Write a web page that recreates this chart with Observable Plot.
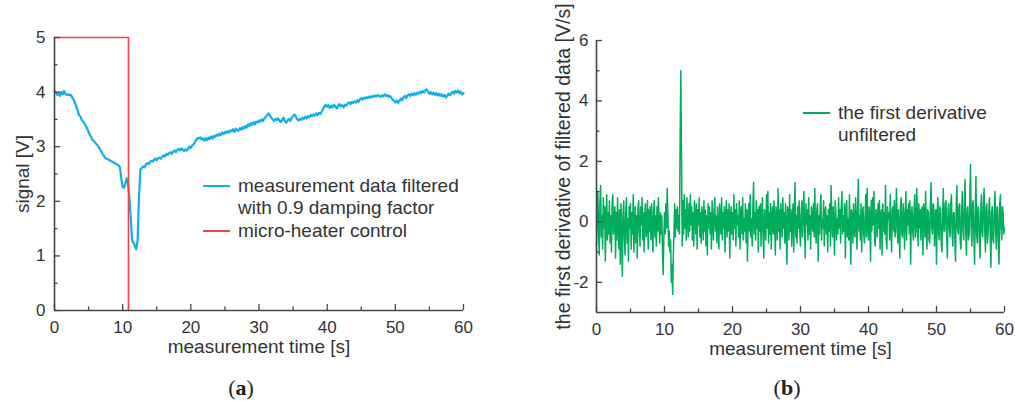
<!DOCTYPE html>
<html><head><meta charset="utf-8">
<script src="https://cdn.jsdelivr.net/npm/d3@7"></script>
<script src="https://cdn.jsdelivr.net/npm/@observablehq/plot@0.6"></script>
<style>
body{margin:0;background:#fff;}
#wrap{position:relative;width:1015px;height:401px;overflow:hidden;font-family:"Liberation Sans",Arial,sans-serif;color:#333;}
.chart{position:absolute;top:0;}
.leg{position:absolute;font-size:19px;line-height:22.5px;color:#333;white-space:nowrap;}
.sw{position:absolute;width:27px;height:0;border-top:2px solid;}
.cap{position:absolute;font-family:"Liberation Serif","DejaVu Serif",serif;font-size:22px;line-height:24px;transform:translateX(-50%);color:#222;}
</style></head><body><div id="wrap"></div>
<script>
// sampling steps (s)
const signalStep = 0.2;
const derivStep = 0.1;
// (a) measurement data filtered with 0.9 damping factor [V], one row = 2 s
const signal = [
 4.02,3.99,3.95,3.97,3.93,4.00,3.96,4.02,3.97,3.95,
 3.96,3.94,3.95,3.90,3.86,3.80,3.74,3.66,3.58,3.55,
 3.49,3.46,3.42,3.38,3.33,3.27,3.21,3.17,3.12,3.10,
 3.07,3.04,3.01,2.97,2.93,2.88,2.84,2.80,2.78,2.77,
 2.76,2.74,2.73,2.72,2.70,2.69,2.67,2.66,2.62,2.42,
 2.26,2.25,2.33,2.42,2.30,2.05,1.65,1.28,1.24,1.18,
 1.12,1.30,2.10,2.58,2.61,2.64,2.62,2.67,2.70,2.68,
 2.72,2.74,2.73,2.76,2.78,2.75,2.79,2.80,2.78,2.82,
 2.84,2.82,2.87,2.85,2.88,2.90,2.87,2.91,2.93,2.90,
 2.94,2.96,2.93,2.97,2.95,2.92,2.95,2.93,2.96,3.00,
 2.98,3.02,3.04,3.08,3.13,3.16,3.15,3.17,3.13,3.15,
 3.11,3.16,3.12,3.17,3.14,3.19,3.15,3.20,3.18,3.22,
 3.20,3.24,3.21,3.26,3.23,3.27,3.25,3.29,3.26,3.30,
 3.28,3.32,3.27,3.33,3.30,3.29,3.34,3.31,3.36,3.33,
 3.38,3.35,3.41,3.38,3.43,3.40,3.45,3.41,3.46,3.44,
 3.48,3.46,3.50,3.47,3.52,3.55,3.58,3.61,3.57,3.53,
 3.50,3.47,3.51,3.49,3.52,3.48,3.45,3.49,3.53,3.47,
 3.44,3.48,3.51,3.47,3.53,3.56,3.59,3.55,3.50,3.48,
 3.51,3.49,3.53,3.51,3.55,3.52,3.56,3.54,3.58,3.56,
 3.59,3.57,3.61,3.58,3.62,3.60,3.64,3.69,3.74,3.77,
 3.73,3.76,3.71,3.75,3.72,3.77,3.74,3.70,3.75,3.78,
 3.74,3.76,3.72,3.77,3.75,3.79,3.81,3.78,3.82,3.80,
 3.83,3.81,3.85,3.82,3.87,3.89,3.86,3.90,3.88,3.91,
 3.89,3.92,3.90,3.93,3.91,3.94,3.92,3.95,3.93,3.91,
 3.94,3.92,3.96,3.93,3.95,3.91,3.93,3.90,3.86,3.84,
 3.81,3.85,3.80,3.84,3.88,3.85,3.90,3.93,3.89,3.94,
 3.96,3.93,3.97,3.94,3.98,3.95,3.99,3.97,4.01,3.98,
 4.02,3.99,4.03,4.05,4.01,3.97,4.00,3.96,3.99,3.95,
 3.98,3.94,3.97,3.93,3.96,3.92,3.95,3.90,3.93,3.97,
 3.94,3.98,4.01,3.97,4.02,3.99,4.03,3.98,4.01,3.96,
 3.98
];
// (a) micro-heater control
const heaterTime = [0, 10.85, 10.85];
const heaterValue = [5, 5, 0];
// (b) the first derivative, unfiltered [V/s], one row = 2 s
const derivative = [
 -0.8,0.4,1.0,-0.3,-1.1,0.6,1.2,-0.5,0.2,-0.9,0.8,-0.2,0.5,-1.3,0.1,0.9,-0.6,0.3,-0.4,0.7,
 -0.7,0.2,-1.0,0.6,0.9,-0.4,-0.1,0.5,-1.2,0.3,-0.6,0.8,-0.2,-0.9,0.4,-1.4,0.6,-0.3,-1.8,0.2,
 0.7,-0.5,-1.1,0.3,0.8,-0.7,0.1,-1.3,0.5,-0.2,0.6,-0.9,0.3,-0.4,0.9,-1.0,-0.2,0.5,-0.7,0.2,
 -1.2,0.4,0.7,-0.3,-0.8,0.5,-0.1,0.8,-0.6,0.3,-1.0,0.2,0.6,-0.5,-0.2,0.7,-0.9,0.4,-0.3,0.5,
 -0.6,0.6,-0.2,-1.0,0.4,0.7,-0.5,0.2,-0.8,0.5,-0.3,0.8,-0.1,-0.7,0.3,-0.4,0.2,-0.9,-1.75,-0.6,
 0.3,-0.4,0.6,-0.2,1.1,0.2,-0.8,-0.3,-1.0,-0.6,-2.0,-1.4,-2.4,-1.1,-0.3,0.6,-0.5,0.4,-0.2,0.5,
 -0.3,0.2,-0.4,2.8,5.0,2.2,-0.8,0.7,-0.4,0.9,-0.2,0.4,-0.6,0.8,0.1,-0.5,0.6,-0.3,0.9,-0.1,
 0.5,-0.6,0.3,-0.8,0.7,0.2,-0.4,0.6,-0.9,0.4,-0.1,0.8,-0.5,0.3,-0.7,0.5,0.1,-0.6,0.7,-0.3,
 0.4,-0.8,0.2,-1.1,0.6,-0.2,0.5,-0.4,0.3,-0.9,0.7,-0.1,-0.6,0.4,0.8,-0.3,0.2,-0.7,0.5,-0.2,
 -0.9,0.6,0.1,-0.4,0.8,-0.6,0.3,-0.2,0.5,-1.0,0.2,0.7,-0.5,0.4,-0.3,0.6,-1.2,0.1,0.5,-0.4,
 0.3,-0.6,0.9,-0.2,0.4,-0.8,0.6,-0.1,0.2,-0.5,0.7,-0.9,0.3,0.5,-0.4,0.8,-0.6,0.1,-0.3,0.6,
 -0.7,0.4,-1.3,0.2,0.6,-0.3,0.9,-0.5,0.1,-0.8,0.5,1.3,-0.4,0.3,-0.6,0.7,-0.2,0.4,-1.0,0.5,
 -0.3,0.6,-0.8,0.2,0.8,-0.5,-1.2,0.4,0.1,-0.6,0.9,-0.2,1.0,-0.7,0.3,-0.4,0.6,-0.9,0.2,0.5,
 -0.4,0.7,-0.1,-1.1,0.5,0.2,-0.6,1.1,-0.3,0.4,-0.9,0.6,0.1,-0.5,0.8,-0.2,0.3,-0.7,0.6,-0.3,
 -1.4,0.5,0.2,-0.6,0.9,-0.3,0.4,-0.8,0.1,0.6,-1.0,0.3,1.3,-0.5,0.2,-0.7,0.5,-0.2,0.7,-0.4,
 -0.8,0.3,0.7,-0.5,0.2,1.0,-0.3,-1.2,0.6,-0.1,0.4,-0.6,0.8,-0.4,0.2,-0.9,0.5,0.1,-0.3,0.6,
 -0.5,1.1,-0.2,-0.7,0.4,0.6,-1.3,0.2,-0.4,0.5,0.9,-0.6,0.1,-0.2,0.7,-0.8,0.3,0.5,-0.4,0.2,
 -1.0,0.4,-0.3,0.6,-0.8,1.2,0.2,-0.5,0.5,-0.1,-1.1,0.7,0.3,-0.6,0.1,-0.4,0.8,-0.2,0.4,-0.7,
 0.5,1.0,-0.4,0.2,-0.3,0.6,-1.2,0.3,0.7,-0.5,0.1,-0.6,0.9,-0.2,-1.4,0.4,0.2,-0.7,0.6,-0.3,
 -0.5,0.8,0.1,-0.9,0.4,1.4,-0.3,0.2,-0.6,0.6,-1.0,0.3,0.5,-0.4,-0.7,0.2,0.9,-0.5,1.1,-0.2,
 -0.6,0.5,0.2,-1.3,0.7,-0.3,0.8,-0.1,1.0,-0.6,-0.8,0.4,0.3,-0.5,0.6,-0.2,0.7,-0.9,0.2,0.4,
 -1.1,0.6,-0.3,0.3,-0.4,1.2,-0.6,-0.9,0.5,0.1,0.3,-0.6,0.9,-0.2,-1.0,0.4,0.5,-0.3,0.7,-0.5,
 -0.3,1.1,0.2,-0.7,0.4,-0.2,-1.2,0.5,0.8,-0.4,-0.5,0.6,0.2,-0.9,0.3,1.0,-0.6,0.4,-0.1,0.6,
 -0.4,0.7,-1.4,0.2,0.5,-0.3,-0.6,0.4,0.9,-0.5,-0.3,1.1,0.1,-0.8,0.6,-0.2,0.4,-0.6,0.3,0.5,
 -1.1,0.6,0.2,-0.5,1.0,-0.3,-0.9,0.4,0.3,-0.6,-0.7,0.5,1.3,-0.2,-0.4,0.6,0.5,-0.8,0.2,0.4,
 -1.4,0.3,0.8,-0.4,-0.6,0.5,0.4,-0.7,-1.0,0.2,1.1,-0.3,-0.3,0.6,0.7,-0.5,-1.2,0.4,0.6,-0.2,
 -0.5,0.6,0.9,-0.4,-0.8,0.3,0.3,-0.6,-1.3,0.5,1.2,-0.2,-0.4,0.5,0.6,-0.7,-0.9,0.4,1.0,-0.3,
 -0.6,0.5,1.4,-0.3,-1.1,0.4,0.5,-0.6,-0.4,0.7,1.9,-0.2,-0.8,0.6,0.7,-0.5,-1.4,0.3,1.5,-0.4,
 -0.7,0.5,0.4,-0.6,-1.2,0.3,0.9,-0.4,-0.5,0.6,1.1,-0.3,-1.0,0.5,0.6,-0.7,-0.3,0.4,0.8,-0.5,
 -1.5,0.3,0.5,-0.6,-0.7,0.4,1.0,-0.3,-0.9,0.5,0.4,-0.8,-1.4,0.6,0.9,-0.2,-0.6,0.5,0.3,-0.4,
 -0.2
];
// tick values
const xMajor = [0,10,20,30,40,50,60];
const xMinor = [5,15,25,35,45,55];
const yMajorA = [0,1,2,3,4,5];
const yMinorA = [0.5,1.5,2.5,3.5,4.5];
const yMajorB = [-2,0,2,4,6];
const yMinorB = [-1,1,3,5];

const signalData = signal.map((v,i)=>({t:+(i*signalStep).toFixed(2), v}));
const derivData = derivative.map((v,i)=>({t:+(i*derivStep).toFixed(2), v}));
const heaterData = heaterTime.map((t,i)=>({t, v:heaterValue[i]}));

const AX = "#444";
const TXT = "#333";
const fmt = d => String(d);
function axes({W,H,m,xDom,yDom,yMaj,yMin,yLabel,yLabelDx,yLabelDy,yLabelSize,yPad}){
  const iw = W - m.l - m.r, ih = H - m.t - m.b;
  return [
    Plot.tickX(xMajor,{x:d=>d, insetTop: ih-6, stroke:AX, strokeWidth:1.3}),
    Plot.tickX(xMinor,{x:d=>d, insetTop: ih-3.5, stroke:AX, strokeWidth:1.3}),
    Plot.tickY(yMaj,{y:d=>d, insetRight: iw-6, stroke:AX, strokeWidth:1.3}),
    Plot.tickY(yMin,{y:d=>d, insetRight: iw-3.5, stroke:AX, strokeWidth:1.3}),
    Plot.ruleX([xDom[0]],{stroke:AX, strokeWidth:1.6}),
    Plot.ruleY([yDom[0]],{stroke:AX, strokeWidth:1.6}),
    // tick labels
    Plot.text(xMajor,{x:d=>d, text:fmt, frameAnchor:"bottom", lineAnchor:"top", dy:10, fontSize:17, fill:TXT}),
    Plot.text(yMaj,{y:d=>d, text:fmt, frameAnchor:"left", textAnchor:"end", dx:-yPad, fontSize:17, fill:TXT}),
    // axis titles
    Plot.text(["measurement time [s]"],{frameAnchor:"bottom", textAnchor:"middle", dy:42, fontSize:19, fill:TXT}),
    Plot.text([yLabel],{frameAnchor:"left", textAnchor:"middle", rotate:-90, dx:yLabelDx, dy:yLabelDy, fontSize:yLabelSize, fill:TXT})
  ];
}

const mA = {t:37,r:27,b:91,l:54};
const chartA = Plot.plot({
  width:490, height:401,
  marginTop:mA.t, marginRight:mA.r, marginBottom:mA.b, marginLeft:mA.l,
  x:{domain:[0,60], axis:null}, y:{domain:[0,5], axis:null},
  style:{fontFamily:"Liberation Sans, Arial, sans-serif", fontSize:"17px", color:"#333", background:"transparent"},
  marks:[
    Plot.line(signalData,{x:"t", y:"v", stroke:"#12aee8", strokeWidth:2.2}),
    Plot.line(heaterData,{x:"t", y:"v", stroke:"#f2414b", strokeWidth:1.6}),
    ...axes({W:490,H:401,m:mA,xDom:[0,60],yDom:[0,5],yMaj:yMajorA,yMin:yMinorA,yLabel:"signal [V]",yLabelDx:-32,yLabelDy:0,yLabelSize:19,yPad:9})
  ]
});

const mB = {t:40,r:11,b:89,l:89};
const chartB = Plot.plot({
  width:508, height:401,
  marginTop:mB.t, marginRight:mB.r, marginBottom:mB.b, marginLeft:mB.l,
  x:{domain:[0,60], axis:null}, y:{domain:[-3,6], axis:null},
  style:{fontFamily:"Liberation Sans, Arial, sans-serif", fontSize:"17px", color:"#333", background:"transparent"},
  marks:[
    Plot.line(derivData,{x:"t", y:"v", stroke:"#00ad5c", strokeWidth:1.5}),
    ...axes({W:508,H:401,m:mB,xDom:[0,60],yDom:[-3,6],yMaj:yMajorB,yMin:yMinorB,yLabel:"the first derivative of filtered data [V/s]",yLabelDx:-33,yLabelDy:-10,yLabelSize:19.5,yPad:8})
  ]
});

const wrap = document.getElementById("wrap");
chartA.classList.add("chart"); chartA.style.left = "0px";
chartB.classList.add("chart"); chartB.style.left = "507px";
wrap.appendChild(chartA); wrap.appendChild(chartB);

function legend(x, y, color, lines){
  const sw = document.createElement("div");
  sw.className = "sw"; sw.style.left = x+"px"; sw.style.top = (y-1)+"px"; sw.style.borderColor = color;
  wrap.appendChild(sw);
  const tx = document.createElement("div");
  tx.className = "leg"; tx.style.left = (x+35)+"px"; tx.style.top = (y-11.25)+"px";
  tx.innerHTML = lines.join("<br>");
  wrap.appendChild(tx);
}
legend(203, 186, "#12aee8", ["measurement data filtered","with 0.9 damping factor"]);
legend(203, 231, "#f2414b", ["micro-heater control"]);
legend(803, 113, "#00ad5c", ["the first derivative","unfiltered"]);

function caption(x, letter){
  const c = document.createElement("div");
  c.className = "cap"; c.style.left = x+"px"; c.style.top = "376px";
  c.innerHTML = "(<b>"+letter+"</b>)";
  wrap.appendChild(c);
}
caption(241, "a");
caption(787, "b");
</script></body></html>
